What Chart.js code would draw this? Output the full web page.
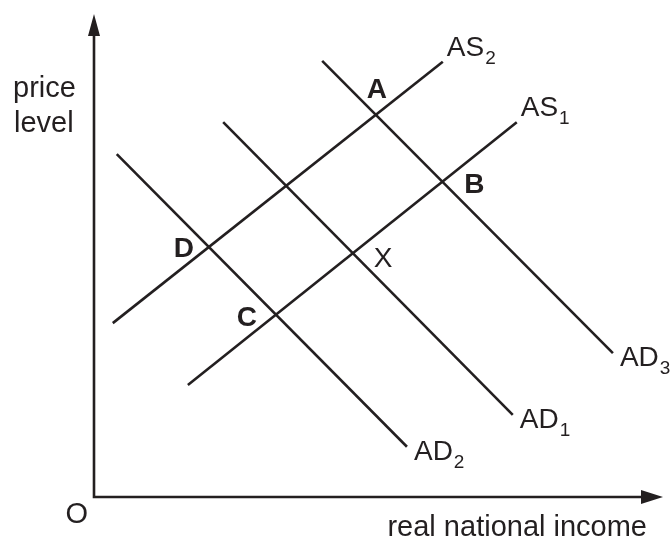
<!DOCTYPE html>
<html lang="en">
<head>
    <meta charset="UTF-8">
    <title>AS / AD diagram</title>
    <style>
        body {
            margin: 0;
            background: #fff;
        }

        #wrap {
            width: 671px;
            height: 539px;
        }
    </style>
    <script src="https://cdn.jsdelivr.net/npm/chart.js"></script>
</head>
<body>
    <div id="wrap">
        <canvas id="adas" width="671" height="539"></canvas>
    </div>

    <script>
        // curve end points, x = real national income, y = price level (0-100 units)
        var as2X = [3.3, 61.3];
        var as2Y = [36.0, 90.1];
        var as1X = [16.5, 74.3];
        var as1Y = [23.2, 77.6];
        var ad2X = [4.0, 55.0];
        var ad2Y = [71.0, 10.4];
        var ad1X = [22.7, 73.6];
        var ad1Y = [77.6, 17.0];
        var ad3X = [40.1, 91.2];
        var ad3Y = [90.3, 29.8];

        // curve order: AS2, AS1, AD2, AD1, AD3
        var curveNames = ['AS', 'AS', 'AD', 'AD', 'AD'];
        var curveSubs = ['2', '1', '2', '1', '3'];

        // equilibrium points: which two curves cross
        var pointNames = ['A', 'B', 'C', 'D', 'X'];
        var pointCurves = [[0, 4], [1, 4], [1, 2], [0, 2], [1, 3]];

        var ink = '#231f20';
        var font = '"Liberation Sans", Arial, sans-serif';

        function pts(xs, ys) {
            return xs.map(function (x, i) { return { x: x, y: ys[i] }; });
        }

        var curves = [pts(as2X, as2Y), pts(as1X, as1Y), pts(ad2X, ad2Y), pts(ad1X, ad1Y), pts(ad3X, ad3Y)];

        // label offsets in px (layout only)
        var pointStyle = {
            A: { align: 'center', dx: 1, dy: -17, bold: true },
            B: { align: 'left', dx: 22, dy: 11, bold: true },
            C: { align: 'right', dx: -19, dy: 11, bold: true },
            D: { align: 'right', dx: -15, dy: 10, bold: true },
            X: { align: 'left', dx: 21, dy: 14, bold: false }
        };

        function cross(p1, p2, p3, p4) {
            var d = (p1.x - p2.x) * (p3.y - p4.y) - (p1.y - p2.y) * (p3.x - p4.x);
            var a = p1.x * p2.y - p1.y * p2.x;
            var b = p3.x * p4.y - p3.y * p4.x;
            return {
                x: (a * (p3.x - p4.x) - (p1.x - p2.x) * b) / d,
                y: (a * (p3.y - p4.y) - (p1.y - p2.y) * b) / d
            };
        }

        var diagramPlugin = {
            id: 'diagram',
            afterDraw: function (chart) {
                var ctx = chart.ctx;
                var xs = chart.scales.x, ys = chart.scales.y;
                var ca = chart.chartArea;
                var ox = xs.getPixelForValue(0), oy = ys.getPixelForValue(0);

                ctx.save();
                ctx.strokeStyle = ink;
                ctx.fillStyle = ink;
                ctx.lineWidth = 2.6;
                ctx.lineJoin = 'miter';

                // axes
                ctx.beginPath();
                ctx.moveTo(ox, ca.top + 20);
                ctx.lineTo(ox, oy);
                ctx.lineTo(ca.right - 20, oy);
                ctx.stroke();

                // arrow heads
                ctx.beginPath();
                ctx.moveTo(ox, ca.top);
                ctx.lineTo(ox - 6, ca.top + 22);
                ctx.lineTo(ox + 6, ca.top + 22);
                ctx.closePath();
                ctx.fill();

                ctx.beginPath();
                ctx.moveTo(ca.right, oy);
                ctx.lineTo(ca.right - 22, oy - 7);
                ctx.lineTo(ca.right - 22, oy + 7);
                ctx.closePath();
                ctx.fill();

                // axis titles
                ctx.textBaseline = 'alphabetic';
                ctx.font = '29px ' + font;
                ctx.textAlign = 'left';
                ctx.fillText('price', 13, 97);
                ctx.fillText('level', 14, 132);
                ctx.textAlign = 'right';
                ctx.fillText('O', ox - 6, oy + 26);
                ctx.fillText('real national income', 647, 536);

                // curve labels at line ends
                curves.forEach(function (c, i) {
                    var end = c[c.length - 1];
                    var px = xs.getPixelForValue(end.x);
                    var py = ys.getPixelForValue(end.y);
                    var isAS = curveNames[i] === 'AS';
                    var lx = px + (isAS ? 4 : 7);
                    var ly = py + (isAS ? -6 : 13);
                    ctx.textAlign = 'left';
                    ctx.font = '28px ' + font;
                    ctx.fillText(curveNames[i], lx, ly);
                    var w = ctx.measureText(curveNames[i]).width;
                    ctx.font = '19px ' + font;
                    ctx.fillText(curveSubs[i], lx + w + 1, ly + 8);
                });

                // intersection labels
                pointNames.forEach(function (name, i) {
                    var a = curves[pointCurves[i][0]], b = curves[pointCurves[i][1]];
                    var p = cross(a[0], a[1], b[0], b[1]);
                    var px = xs.getPixelForValue(p.x);
                    var py = ys.getPixelForValue(p.y);
                    var st = pointStyle[name];
                    ctx.font = (st.bold ? 'bold ' : '') + '28px ' + font;
                    ctx.textAlign = st.align;
                    ctx.fillText(name, px + st.dx, py + st.dy);
                });

                ctx.restore();
            }
        };

        var chart = new Chart(document.getElementById('adas').getContext('2d'), {
            type: 'scatter',
            data: {
                datasets: curves.map(function (c, i) {
                    return {
                        label: curveNames[i] + curveSubs[i],
                        data: c,
                        showLine: true,
                        borderColor: ink,
                        borderWidth: 2.6,
                        pointRadius: 0,
                        fill: false
                    };
                })
            },
            options: {
                responsive: false,
                animation: false,
                devicePixelRatio: 1,
                layout: {
                    padding: { left: 94, right: 8, top: 14, bottom: 42 }
                },
                plugins: {
                    legend: { display: false },
                    tooltip: { enabled: false }
                },
                scales: {
                    x: { type: 'linear', min: 0, max: 100, display: false },
                    y: { type: 'linear', min: 0, max: 100, display: false }
                }
            },
            plugins: [diagramPlugin]
        });
    </script>
</body>
</html>
